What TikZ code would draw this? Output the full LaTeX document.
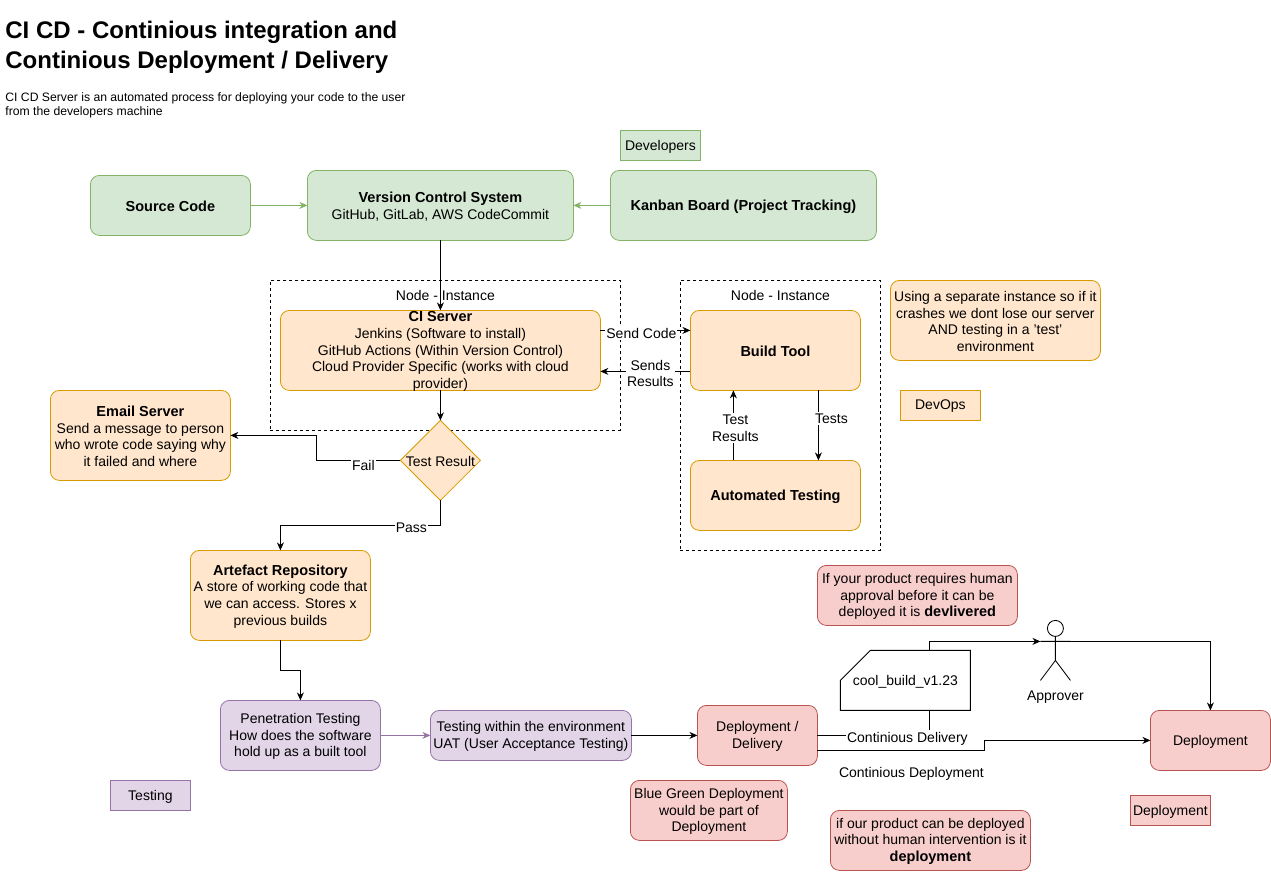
\documentclass[tikz,border=0pt]{standalone}
\usepackage{fontspec}
\setmainfont{Liberation Sans}
\usetikzlibrary{arrows.meta,shapes.geometric}
\newcommand{\pxbox}[7]{%
  \pgfmathsetmacro{\cxx}{(#3+#5)/2}\pgfmathsetmacro{\cyy}{(#4+#6)/2}%
  \pgfmathsetmacro{\wxx}{#5-#3}\pgfmathsetmacro{\hyy}{#6-#4}%
  \node[#2,minimum width=\wxx pt,minimum height=\hyy pt] (#1) at (\cxx,\cyy) {};
  \node[yshift=-1pt] (#1text) at (#1.center) {#7};}
\newcommand{\heavytext}[1]{{\fontsize{14.5}{16.8}\selectfont\bfseries #1}}
\tikzset{
  every node/.style={font=\fontsize{14}{16.8}\selectfont,align=center,inner sep=0pt,outer sep=0pt},
  flatbox/.style={draw,rectangle,line width=0.8pt},
  roundbox/.style={flatbox,rounded corners=9pt},
  greenc/.style={fill=gfill,draw=gline},
  orangec/.style={fill=ofill,draw=oline},
  purplec/.style={fill=pfill,draw=pline},
  redc/.style={fill=rfill,draw=rline},
  conn/.style={draw=black,line width=0.85pt,-{Stealth[length=8pt,width=7pt]}},
  linkplain/.style={draw=black,line width=0.85pt},
  lab/.style={fill=white,inner xsep=1pt,inner ysep=1.5pt},
  dashbox/.style={draw=black,line width=0.8pt,rectangle,dash pattern=on 3pt off 3pt},
}
\definecolor{gfill}{HTML}{D5E8D4}\definecolor{gline}{HTML}{82B366}
\definecolor{ofill}{HTML}{FFE6CC}\definecolor{oline}{HTML}{D79B00}
\definecolor{pfill}{HTML}{E1D5E7}\definecolor{pline}{HTML}{9673A6}
\definecolor{rfill}{HTML}{F8CECC}\definecolor{rline}{HTML}{B85450}
\begin{document}
\begin{tikzpicture}[x=1pt,y=-1pt]
\useasboundingbox (-0.4,-0.4) rectangle (1270.6,870.6);
% heading
\node[anchor=west,align=left,font=\fontsize{24}{30}\selectfont\bfseries] (title) at (5,47) {CI CD - Continious integration and\\Continious Deployment / Delivery};
\node[anchor=west,align=left,font=\fontsize{12.2}{14.5}\selectfont] (subtitle) at (5,105) {CI CD Server is an automated process for deploying your code to the user\\from the developers machine};
% instance frames
\pxbox{frameA}{dashbox}{270}{280}{620}{430}{}
\pxbox{frameB}{dashbox}{680}{280}{880}{550}{}
\node (frameAt) at (445,295.5) {Node - Instance};
\node (frameBt) at (780,295.5) {Node - Instance};
% boxes
\pxbox{dev}{flatbox,greenc}{620}{130}{700}{160}{Developers}
\pxbox{src}{roundbox,greenc}{90}{175}{250}{235}{\heavytext{Source Code}}
\pxbox{vcs}{roundbox,greenc}{307}{170}{573}{240}{\heavytext{Version Control System}\\GitHub, GitLab, AWS CodeCommit}
\pxbox{kanban}{roundbox,greenc}{610}{170}{876}{240}{\heavytext{Kanban Board (Project Tracking)}}
\pxbox{ci}{roundbox,orangec}{280}{310}{600}{390}{\heavytext{CI Server}\\Jenkins (Software to install)\\GitHub Actions (Within Version Control)\\Cloud Provider Specific (works with cloud\\provider)}
\pxbox{build}{roundbox,orangec}{690}{310}{860}{390}{\heavytext{Build Tool}}
\pxbox{auto}{roundbox,orangec}{690}{460}{860}{530}{\heavytext{Automated Testing}}
\pxbox{sepnote}{roundbox,orangec}{890}{280}{1100}{360}{Using a separate instance so if it\\crashes we dont lose our server\\AND testing in a 'test'\\environment}
\pxbox{devops}{flatbox,orangec}{900}{390}{980}{420}{DevOps}
\pxbox{email}{roundbox,orangec}{50}{390}{230}{480}{\heavytext{Email Server}\\Send a message to person\\who wrote code saying why\\it failed and where}
\node[draw,diamond,aspect=1,orangec,line width=0.8pt,minimum width=80pt,minimum height=80pt] (result) at (440,460) {};
\node (resultt) at (440,461) {Test Result};
\pxbox{art}{roundbox,orangec}{190}{550}{370}{640}{\heavytext{Artefact Repository}\\A store of working code that\\we can access. Stores x\\previous builds}
\pxbox{pen}{roundbox,purplec}{220}{700}{380}{770}{Penetration Testing\\How does the software\\hold up as a built tool}
\pxbox{uat}{roundbox,purplec}{430}{710}{631}{760}{Testing within the environment\\UAT (User Acceptance Testing)}
\pxbox{testing}{flatbox,purplec}{110}{780}{190}{810}{Testing}
\pxbox{deliv}{roundbox,redc}{697}{705}{817}{765}{Deployment /\\Delivery}
\pxbox{blue}{roundbox,redc}{630}{780}{787}{840}{Blue Green Deployment\\would be part of\\Deployment}
\pxbox{human}{roundbox,redc}{817}{565}{1017}{625}{If your product requires human\\approval before it can be\\deployed it is \heavytext{devlivered}}
\pxbox{final}{roundbox,redc}{1150}{710}{1270}{770}{Deployment}
\pxbox{legend}{flatbox,redc}{1130}{795}{1210}{825}{Deployment}
\pxbox{nohuman}{roundbox,redc}{830}{810}{1030}{870}{if our product can be deployed\\without human intervention is it\\\heavytext{deployment}}
% build card
\pxbox{card}{rectangle}{840}{650}{970}{710}{cool\_build\_v1.23}
\draw[line width=0.85pt] (card.south west) -- ([yshift=30pt]card.south west) -- ([xshift=30pt]card.north west) -- (card.north east) -- (card.south east) -- cycle;
% actor
\pxbox{actor}{rectangle}{1040}{620}{1070}{680}{}
\draw[line width=0.85pt] (1055,628) circle (8);
\draw[line width=0.85pt] (1055,636) -- (1055,660) (1040,641) -- (1070,641) (1040,680) -- (1055,660) -- (1070,680);
\node (actorname) at (1055,697) {Approver};
% connectors
\draw[conn,draw=gline] (src.east) -- (vcs.west |- src.east);
\draw[conn,draw=gline] (kanban.west) -- (vcs.east);
\draw[conn] (vcs.south) -- (ci.north);
\draw[conn] (ci.south) -- (result.north);
\draw[conn] ([yshift=20pt]ci.east) -- ([yshift=20pt]build.west);
\draw[conn] ([yshift=-21pt]build.west) -- ([yshift=-21pt]ci.east);
\draw[conn] ([xshift=43pt]build.south) -- ([xshift=43pt]auto.north);
\draw[conn] ([xshift=-42pt]auto.north) -- ([xshift=-42pt]build.south);
\coordinate (failA) at (316,460);
\coordinate (failB) at (316,435);
\draw[conn] (result.west) -- (failA) -- (failB) -- (email.east |- failB);
\coordinate (passA) at (440,525);
\draw[conn] (result.south) -- (passA) -| (art.north);
\coordinate (artA) at (280,670);
\draw[conn] (art.south) -- (artA) -| (pen.north);
\draw[conn,draw=pline] (pen.east) -- (uat.west);
\draw[conn] (uat.east) -- (deliv.west);
\coordinate (delA) at (929,735);
\draw[linkplain] (deliv.east) -- (delA) -- (card.south -| delA);
\coordinate (cardB) at (929,641);
\draw[conn] (card.north -| cardB) -- (cardB) -- ([yshift=9pt]actor.west);
\coordinate (upC) at (1210,641);
\draw[conn] ([yshift=9pt]actor.east) -- (upC) -- (final.north);
\coordinate (depA) at (984,750);
\coordinate (depB) at (984,740);
\draw[conn] ([yshift=-15pt]deliv.east) -- (depA) -- (depB) -- (final.west);
% connector labels
\node[lab] (lsend) at (641,333) {Send Code};
\node[lab] (lres) at (650,373) {Sends\\Results};
\node[lab] (ltests) at (831,418) {Tests};
\node[lab] (ltres) at (735,427.5) {Test\\Results};
\node[lab] (lfail) at (363,465) {Fail};
\node[lab] (lpass) at (411,527) {Pass};
\node[lab] (ldel) at (907,738) {Continious Delivery};
\node (ldep) at (911,773) {Continious Deployment};
\end{tikzpicture}
\end{document}
